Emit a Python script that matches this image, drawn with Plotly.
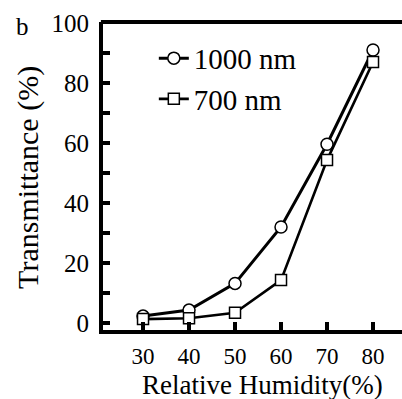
import plotly.graph_objects as go

humidity = [30, 40, 50, 60, 70, 80]
t_1000 = [2.3, 4.3, 13.2, 32.0, 59.6, 91.0]
t_700 = [1.3, 1.6, 3.4, 14.3, 54.3, 87.0]
x_ticks = [30, 40, 50, 60, 70, 80]
y_ticks = [0, 20, 40, 60, 80, 100]

FONT = "Times New Roman, Liberation Serif, DejaVu Serif, serif"

fig = go.Figure()
fig.add_trace(go.Scatter(
    x=humidity, y=t_1000, name="1000 nm", mode="lines+markers",
    line=dict(color="black", width=3),
    marker=dict(symbol="circle", size=12, color="white", line=dict(color="black", width=1.5)),
))
fig.add_trace(go.Scatter(
    x=humidity, y=t_700, name="700 nm", mode="lines+markers",
    line=dict(color="black", width=2.6),
    marker=dict(symbol="square", size=11, color="white", line=dict(color="black", width=1.5)),
))

fig.update_layout(
    width=402, height=399,
    margin=dict(l=103, r=0, t=22, b=69),
    paper_bgcolor="white", plot_bgcolor="white",
    font=dict(family=FONT, color="black"),
    showlegend=True,
    legend=dict(x=0.17, y=0.965, xanchor="left", yanchor="top",
                font=dict(size=29, family=FONT), bgcolor="rgba(0,0,0,0)",
                tracegroupgap=0, itemwidth=30),
    xaxis=dict(range=[21.3, 86.3], tickvals=x_ticks, ticks="inside", ticklen=8, tickwidth=4,
               tickcolor="black", showline=True, linewidth=4, linecolor="black",
               showgrid=False, zeroline=False, tickfont=dict(size=23, family=FONT),
               ticklabelstandoff=2),
    yaxis=dict(range=[-2.33, 100.33], tickvals=y_ticks, ticks="inside", ticklen=7, tickwidth=4,
               tickcolor="black", showline=True, linewidth=4, linecolor="black",
               showgrid=False, zeroline=False, tickfont=dict(size=25, family=FONT),
               ticklabelstandoff=5,
               minor=dict(tickvals=[10, 30, 50, 70, 90], ticks="inside", ticklen=7,
                          tickwidth=4, tickcolor="black", showgrid=False)),
    shapes=[dict(type="line", xref="paper", yref="paper", x0=-0.007, x1=1.0, y0=1, y1=1,
                 line=dict(color="black", width=4))],
    annotations=[
        dict(text="Relative Humidity(%)", xref="paper", yref="paper",
             x=0.532, y=-0.18, xanchor="center", yanchor="middle", showarrow=False,
             font=dict(size=27, family=FONT)),
        dict(text="Transmittance (%)", xref="paper", yref="paper",
             x=-0.251, y=0.497, xanchor="center", yanchor="middle", textangle=-90,
             showarrow=False, font=dict(size=30, family=FONT)),
        dict(text="b", xref="paper", yref="paper",
             x=-0.27, y=0.985, xanchor="center", yanchor="middle", showarrow=False,
             font=dict(size=25, family=FONT)),
    ],
)

fig.write_html("out.html")
